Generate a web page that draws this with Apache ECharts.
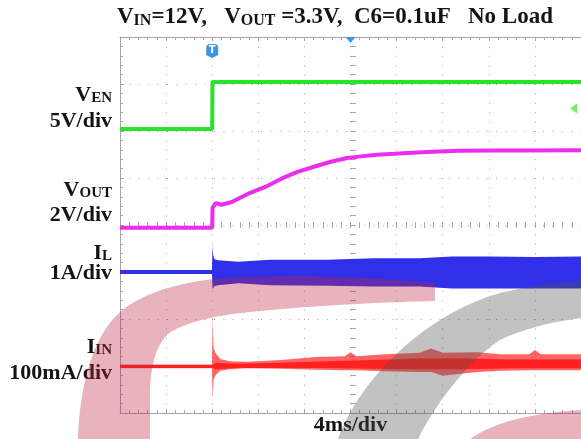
<!DOCTYPE html>
<html>
<head>
<meta charset="utf-8">
<script src="https://cdn.jsdelivr.net/npm/echarts@6/dist/echarts.min.js"></script>
<style>
  html, body { margin: 0; padding: 0; background: #ffffff; }
  #scope { width: 581px; height: 439px; }
</style>
</head>
<body>
<div id="scope"></div>
<script>
// ---- Time base: 4 ms/div, trigger at t = 0 ms ----
const timeMin = -8;
const timeMax = 32;
const msPerDiv = 4;
const centreTime = 12;
const triggerTime = 0;

// ---- Channel 1: V_EN (5 V/div) ----
const enTime  = [-8, 0, 0.02, 32];
const enVolts = [0, 0, 5.0, 5.0];
const enMarkerLevel = 2.2;

// ---- Channel 2: V_OUT (2 V/div) ----
const outTime  = [-8, 0, 0.03, 0.3, 0.8, 1.7, 3.2, 4.6, 6.0, 7.4, 8.9, 10.3, 11.7, 12.9, 14.3, 15.8, 18.6, 21.4, 24.4, 27.2, 32];
const outVolts = [0, 0, 0.85, 1.05, 0.98, 1.1, 1.47, 1.74, 2.09, 2.38, 2.61, 2.81, 2.97, 3.04, 3.11, 3.15, 3.23, 3.28, 3.29, 3.29, 3.30];

// ---- Channel 3: I_L (1 A/div), upper / lower envelope ----
const ilTime = [-8, -0.02, 0.03, 0.08, 0.2, 0.5, 2.3, 5, 10, 14, 18, 20.8, 24, 28, 32];
const ilHigh = [0.04, 0.04, 0.57, 0.36, 0.27, 0.25, 0.22, 0.26, 0.26, 0.29, 0.29, 0.33, 0.33, 0.32, 0.33];
const ilLow  = [-0.04, -0.04, -0.36, -0.34, -0.30, -0.28, -0.24, -0.28, -0.29, -0.31, -0.31, -0.35, -0.35, -0.35, -0.35];

// ---- Channel 4: I_IN (100 mA/div), peak envelope and dense core ----
const iinTime = [-8, -0.02, 0.05, 0.12, 0.3, 0.7, 1.5, 3, 6, 9, 11.5, 12, 12.5, 15, 18, 19, 20, 23, 25, 27.5, 28, 28.5, 32];
const iinHigh = [4, 4, 104, 40, 28, 16, 11, 10, 14, 20, 22, 30, 22, 26, 29, 38, 29, 30, 26, 26, 35, 26, 26];
const iinLow  = [-4, -4, -70, -28, -18, -9, -6, -4, -5, -7, -8, -8, -8, -10, -12, -12, -20, -12, -9, -8, -8, -8, -8];
const iinCoreTime = [-8, 0, 0.3, 2, 6, 10, 14, 18, 22, 26, 32];
const iinCoreHigh = [3, 3, 8, 6, 8, 11, 14, 17, 17, 15, 15];
const iinCoreLow  = [-3, -3, -6, -3, -3, -3, -5, -6, -6, -4, -4];

// ---- Screen layout ----
const divsY = 8;
const gridLeft = 120, gridTop = 37, gridW = 466, gridH = 376;
// zero level of each channel, in divisions above the bottom edge, and units per division
const chEN  = { zero: 6.04, perDiv: 5 };
const chOUT = { zero: 3.94, perDiv: 2 };
const chIL  = { zero: 3.00, perDiv: 1 };
const chIIN = { zero: 0.99, perDiv: 100 };

const gridColor = '#a3a3b2';
const markerBlue = '#3b95ea';
// translucent tints so the logo darkens whatever lies beneath it
const logoPink = 'rgba(189,38,64,0.35)';
const logoGrey = 'rgba(81,81,81,0.35)';
const serif = '"Liberation Serif", "Times New Roman", serif';

function channelAxis(ch) {
  return {
    type: 'value', show: false, position: 'left',
    min: -ch.zero * ch.perDiv, max: (divsY - ch.zero) * ch.perDiv,
    axisLine: { onZero: false }, splitLine: { show: false }
  };
}

function tickAxis(extra) {
  return Object.assign({
    type: 'value',
    axisLine: { show: true, onZero: false, lineStyle: { color: gridColor, width: 1 } },
    axisTick: { show: true, inside: true, length: 4, lineStyle: { color: gridColor } },
    minorTick: { show: true, splitNumber: 5, length: 3, lineStyle: { color: gridColor } },
    axisLabel: { show: false },
    splitLine: { show: false }
  }, extra);
}

const xGrid = { min: timeMin, max: timeMax, interval: msPerDiv };
const yGrid = { min: 0, max: divsY, interval: 1 };

function bandSeries(name, yAxisIndex, time, high, low, color, z) {
  return {
    type: 'custom', name: name, xAxisIndex: 0, yAxisIndex: yAxisIndex,
    silent: true, z: z, clip: true,
    data: time.map((t, i) => [t, low[i], high[i]]),
    encode: { x: 0, y: [1, 2] },
    renderItem: function (params, api) {
      if (params.dataIndex !== 0) return null;
      const upper = time.map((t, i) => api.coord([t, high[i]]));
      const lower = time.map((t, i) => api.coord([t, low[i]])).reverse();
      return { type: 'polygon', shape: { points: upper.concat(lower) }, style: { fill: color } };
    }
  };
}

// scope markers: trigger "T", horizontal position and channel 1 level
const markerSeries = {
  type: 'custom', name: 'markers', xAxisIndex: 0, yAxisIndex: 3,
  silent: true, z: 40, clip: false,
  data: [[triggerTime, enMarkerLevel]],
  renderItem: function (params, api) {
    const cs = params.coordSys;
    const trigX = api.coord([triggerTime, enMarkerLevel])[0];
    const ctrX = api.coord([centreTime, enMarkerLevel])[0];
    const lvl = api.coord([timeMax, enMarkerLevel]);
    const ty = cs.y + 14;
    return {
      type: 'group',
      children: [
        { type: 'path', shape: { pathData: 'M' + (trigX - 6) + ',' + (ty - 3) + ' Q' + (trigX - 6) + ',' + (ty - 7) + ' ' + (trigX - 2) + ',' + (ty - 7) +
            ' L' + (trigX + 2) + ',' + (ty - 7) + ' Q' + (trigX + 6) + ',' + (ty - 7) + ' ' + (trigX + 6) + ',' + (ty - 3) +
            ' L' + (trigX + 6) + ',' + (ty + 4) + ' L' + trigX + ',' + (ty + 7) + ' L' + (trigX - 6) + ',' + (ty + 4) + ' Z' },
          style: { fill: markerBlue } },
        { type: 'text', style: { x: trigX, y: ty - 0.5, text: 'T', align: 'center', verticalAlign: 'middle',
            fontFamily: '"DejaVu Sans", sans-serif', fontWeight: 'bold', fontSize: 10, fill: '#ffffff' } },
        { type: 'polygon', shape: { points: [[ctrX - 5, cs.y], [ctrX + 5, cs.y], [ctrX, cs.y + 6]] },
          style: { fill: markerBlue } },
        { type: 'polygon', shape: { points: [[lvl[0] - 11, lvl[1]], [lvl[0] - 4, lvl[1] - 5], [lvl[0] - 4, lvl[1] + 5]] },
          style: { fill: '#6ff06f' } }
      ]
    };
  }
};

// company logo printed faintly across the lower half of the screen
const logoSeries = {
  type: 'custom', name: 'logo', coordinateSystem: 'none', silent: true, z: 100,
  data: [[0]],
  renderItem: function () {
    return {
      type: 'group',
      children: [
        { type: 'path', shape: { pathData: 'M78,439 C80,380 95,330 125,308 C150,290 190,279 240,277 L300,276 C360,277 400,280 435,283 L435,301 C390,302 320,305 260,311 C215,315 185,322 168,334 C155,346 150,370 150,395 L150,439 Z' },
          style: { fill: logoPink } },
        { type: 'path', shape: { pathData: 'M338,439 C360,380 420,320 490,296 C520,287 550,283 581,281 L581,318 C550,322 520,330 500,340 C475,356 440,395 418,439 Z' },
          style: { fill: logoGrey } },
        { type: 'path', shape: { pathData: 'M470,439 C490,425 520,414 581,410 L581,439 Z' },
          style: { fill: logoPink } }
      ]
    };
  }
};

const chart = echarts.init(document.getElementById('scope'), null, { renderer: 'canvas' });

chart.setOption({
  animation: false,
  backgroundColor: '#ffffff',
  grid: { left: gridLeft, top: gridTop, width: gridW, height: gridH, containLabel: false },
  xAxis: [
    tickAxis(Object.assign({ position: 'bottom',
      splitLine: { show: true, lineStyle: { color: gridColor, width: 1, type: [1, 8.4] } } }, xGrid)),
    tickAxis(Object.assign({ position: 'top' }, xGrid)),
    tickAxis(Object.assign({ position: 'bottom', offset: -gridH / 2,
      axisLine: { show: false, onZero: false }, axisTick: { show: true, inside: true, length: 3, lineStyle: { color: gridColor } } }, xGrid)),
    tickAxis(Object.assign({ position: 'bottom', offset: -gridH / 2,
      axisLine: { show: false, onZero: false }, axisTick: { show: true, inside: false, length: 3, lineStyle: { color: gridColor } } }, xGrid))
  ],
  yAxis: [
    tickAxis(Object.assign({ position: 'left',
      splitLine: { show: true, lineStyle: { color: gridColor, width: 1, type: [1, 8.4] } } }, yGrid)),
    tickAxis(Object.assign({ position: 'left', offset: -gridW / 2,
      axisLine: { show: false, onZero: false }, axisTick: { show: true, inside: true, length: 3, lineStyle: { color: gridColor } } }, yGrid)),
    tickAxis(Object.assign({ position: 'left', offset: -gridW / 2,
      axisLine: { show: false, onZero: false }, axisTick: { show: true, inside: false, length: 3, lineStyle: { color: gridColor } } }, yGrid)),
    channelAxis(chEN),   // 3
    channelAxis(chOUT),  // 4
    channelAxis(chIL),   // 5
    channelAxis(chIIN)   // 6
  ],
  series: [
    {
      type: 'line', name: 'VEN', xAxisIndex: 0, yAxisIndex: 3, z: 4,
      symbol: 'none', silent: true,
      data: enTime.map((t, i) => [t, enVolts[i]]),
      lineStyle: { color: '#29e329', width: 4 }
    },
    {
      type: 'line', name: 'VOUT', xAxisIndex: 0, yAxisIndex: 4, z: 4,
      symbol: 'none', silent: true,
      data: outTime.map((t, i) => [t, outVolts[i]]),
      lineStyle: { color: '#ee2cee', width: 4 }
    },
    bandSeries('IL', 5, ilTime, ilHigh, ilLow, '#3030ea', 4),
    bandSeries('IIN peaks', 6, iinTime, iinHigh, iinLow, 'rgba(255,42,42,0.72)', 4),
    bandSeries('IIN', 6, iinCoreTime, iinCoreHigh, iinCoreLow, '#ff2020', 5),
    markerSeries,
    logoSeries
  ]
});

// ---- Title and channel annotations ----
const ctrX = chart.convertToPixel({ xAxisIndex: 0 }, centreTime);

const big = { fontFamily: serif, fontWeight: 'bold', fontSize: 23, lineHeight: 23, verticalAlign: 'bottom', fill: '#141414' };
const small = { fontFamily: serif, fontWeight: 'bold', fontSize: 16, lineHeight: 16, verticalAlign: 'bottom', fill: '#141414' };
const lbl = { fontFamily: serif, fontWeight: 'bold', fontSize: 22, lineHeight: 22, verticalAlign: 'bottom', fill: '#141414' };
const lblSub = { fontFamily: serif, fontWeight: 'bold', fontSize: 15, lineHeight: 15, verticalAlign: 'bottom', fill: '#141414' };

function label(text, x, y, align) {
  return {
    type: 'text', z: 50, silent: true,
    style: { x: x, y: y, text: text, align: align || 'right', verticalAlign: 'middle',
      rich: { b: lbl, s: lblSub } }
  };
}

chart.setOption({
  graphic: [
    {
      type: 'text', z: 50, silent: true,
      style: {
        x: 117, y: 17, align: 'left', verticalAlign: 'middle',
        text: '{b|V}{s|IN}{b|=12V,   V}{s|OUT}{b| =3.3V,  C6=0.1uF   No Load}',
        rich: { b: big, s: small }
      }
    },
    label('{b|V}{s|EN}', 112, 95),
    label('{b|5V/div}', 112, 121),
    label('{b|V}{s|OUT}', 112, 190),
    label('{b|2V/div}', 112, 215),
    label('{b|I}{s|L}', 112, 253),
    label('{b|1A/div}', 112, 273),
    label('{b|I}{s|IN}', 112, 347),
    label('{b|100mA/div}', 112, 373),
    label('{b|4ms/div}', ctrX, 425, 'center')
  ]
});
</script>
</body>
</html>
